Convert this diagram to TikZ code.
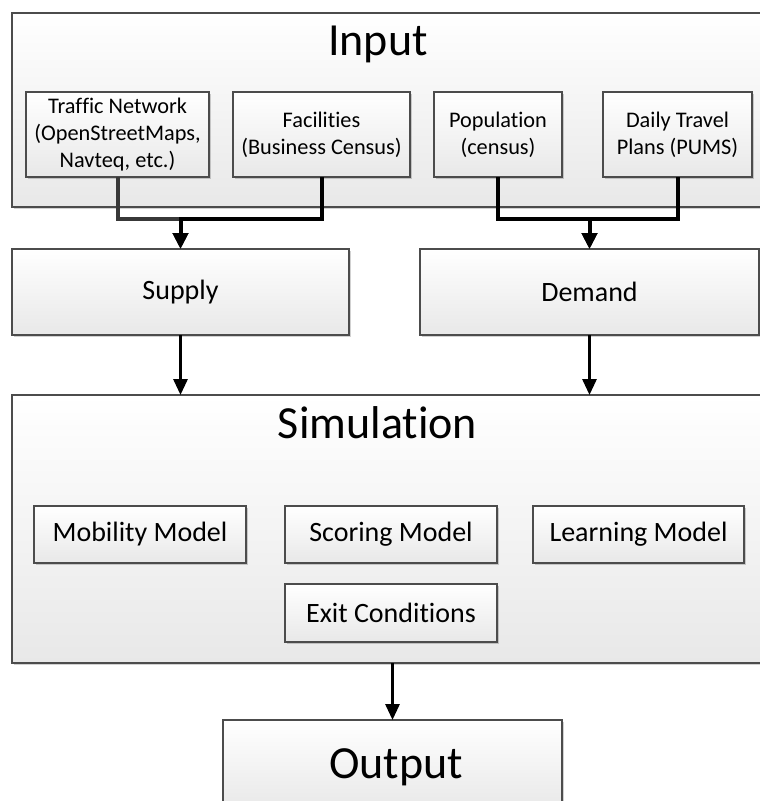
\documentclass[tikz,border=0pt]{standalone}
\usepackage{fontspec}
\setmainfont{Carlito}[Ligatures=NoCommon]
\usetikzlibrary{arrows.meta,shadows}
\newcommand{\nolig}{\kern0pt}
\begin{document}
\begin{tikzpicture}[x=1pt,y=1pt,
  box/.style={draw=black!70, line width=1.2pt, top color=white, bottom color=black!9,
    drop shadow={shadow xshift=2pt, shadow yshift=-2pt, fill=black, opacity=0.18},
    inner sep=0pt, outer sep=0pt, align=center, text=black},
  bigfont/.style={font=\fontsize{46}{55}\selectfont},
  midfont/.style={font=\fontsize{28}{33}\selectfont},
  smallfont/.style={font=\fontsize{22.3}{26.7}\selectfont},
  title/.style={bigfont, anchor=base, inner sep=0pt},
  conn/.style={line width=4pt, -{Triangle[width=15pt,length=16pt]}},
  flow/.style={line width=3pt, -{Triangle[width=14pt,length=16pt]}}]
\useasboundingbox (0,0) rectangle (760,-801);
\clip (0,0) rectangle (760,-801);
% Input
\node[box, minimum width=758, minimum height=194] (input) at (391,-110) {};
\node[title] (inputtitle) at (378,-55) {Input};
\node[box, smallfont, minimum width=183, minimum height=85] (traffic) at (117.5,-134.5)
  {Traf\nolig f\nolig ic Network\\(OpenStreetMaps,\\Navteq, etc.)};
\node[box, smallfont, minimum width=177, minimum height=85] (facil) at (321.5,-134.5)
  {Facilit\nolig ies\\(Business Census)};
\node[box, smallfont, minimum width=128, minimum height=85] (pop) at (498,-134.5)
  {Populat\nolig ion\\(census)};
\node[box, smallfont, minimum width=149, minimum height=85] (daily) at (677.5,-134.5)
  {Daily Travel\\Plans (PUMS)};
% Supply / Demand
\node[box, midfont, minimum width=337, minimum height=86] (supply) at (180.5,-292) {Supply};
\node[box, midfont, minimum width=339, minimum height=86] (demand) at (589.5,-292) {Demand};
% Simulation
\node[box, minimum width=758, minimum height=268] (sim) at (391,-529) {};
\node[title] (simtitle) at (377.5,-438) {Simulat\nolig ion};
\node[box, midfont, minimum width=212, minimum height=57] (mob) at (140,-534.5) {Mobility Model};
\node[box, midfont, minimum width=212, minimum height=57] (score) at (391,-534.5) {Scoring Model};
\node[box, midfont, minimum width=211, minimum height=57] (learn) at (638.5,-534.5) {Learning Model};
\node[box, midfont, minimum width=212, minimum height=58] (exit) at (391,-613) {Exit Condit\nolig ions};
% Output
\node[box, minimum width=339, minimum height=90] (output) at (392.5,-765) {};
\node[title] (outtitle) at (396,-778) {Output};
% connectors
\coordinate (jL) at (180.5,-219);
\coordinate (jR) at (589.5,-219);
\draw[conn, black!78] (traffic.south) |- (jL) -- (supply.north);
\draw[conn] (facil.south) |- (jL) -- (supply.north);
\draw[conn] (pop.south) |- (jR) -- (demand.north);
\draw[conn] (daily.south) |- (jR) -- (demand.north);
\draw[flow] (supply.south) -- (supply.south |- sim.north);
\draw[flow] (demand.south) -- (demand.south |- sim.north);
\draw[flow] (sim.south -| output.north) -- (output.north);
\end{tikzpicture}
\end{document}
